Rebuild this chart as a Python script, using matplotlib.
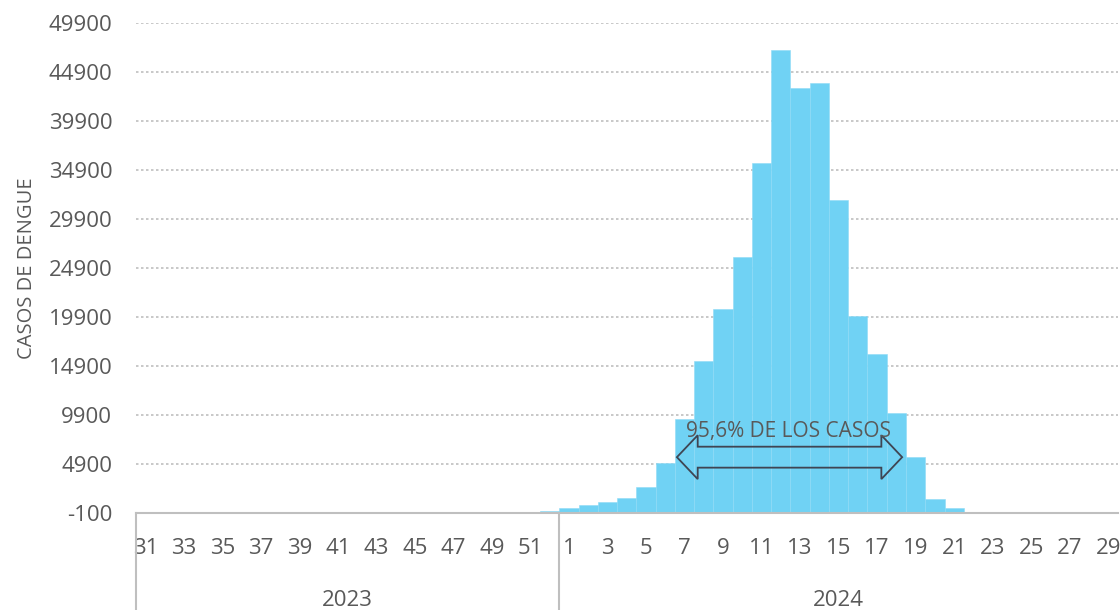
import matplotlib.pyplot as plt
from matplotlib.patches import Polygon
from matplotlib.transforms import blended_transform_factory

plt.rcParams['font.family'] = ['Open Sans', 'DejaVu Sans']

# semanas epidemiologicas
weeks_2023 = list(range(31, 53))
weeks_2024 = list(range(1, 30))
cases_2023 = [5, 5, 5, 5, 5, 5, 5, 5, 5, 5, 5, 5, 5, 5, 5, 5,
              5, 5, 10, 10, 20, 150]
cases_2024 = [380, 690, 1000, 1430, 2550, 5000, 9500, 15450, 20700, 26050,
              35600, 47200, 43300, 43750, 31800, 20000, 16150, 10150, 5650,
              1350, 450, 30, 20, 15, 10, 10, 10, 5, 5]
years = ['2023', '2024']
y_ticks = list(range(-100, 50000, 5000))
pct_label = '95,6% DE LOS CASOS'

grey = '#595959'
line_c = '#bfbfbf'

values = cases_2023 + cases_2024
labels = [str(w) for w in weeks_2023 + weeks_2024]
x = list(range(len(values)))

fig = plt.figure(figsize=(11.2, 6.1), dpi=100)
ax = fig.add_axes([0.1214, 0.159, 0.8766, 0.803])

ax.bar(x, values, width=1.0, color='#70d2f4', edgecolor='#8fdbf6', linewidth=0.4, zorder=2)

ax.set_xlim(-0.5, len(values) - 0.5)
ax.set_ylim(-100, 49900)
ax.set_yticks(y_ticks)
ax.set_yticklabels([str(v) for v in y_ticks])
ax.yaxis.grid(True, linestyle=(0, (1.5, 1.5)), color=line_c, linewidth=1.2, zorder=0)
ax.set_axisbelow(True)

ax.set_xticks(x[::2])
ax.set_xticklabels(labels[::2])
ax.tick_params(axis='x', length=0, pad=18, labelsize=16, labelcolor=grey)
ax.tick_params(axis='y', length=0, pad=17, labelsize=16, labelcolor=grey)

for s in ['top', 'right', 'left']:
    ax.spines[s].set_visible(False)
ax.spines['bottom'].set_color(line_c)
ax.spines['bottom'].set_linewidth(1.5)

ax.set_ylabel('CASOS DE DENGUE', fontsize=14.5, color=grey, labelpad=8)

# segundo nivel del eje: años
tr = blended_transform_factory(ax.transData, ax.transAxes)
bounds = [-0.5, len(weeks_2023) - 0.5, len(values) - 0.5]
for b in bounds[:2]:
    ax.plot([b, b], [0, -0.2], transform=tr, color=line_c, linewidth=1.5, clip_on=False)
for i, yr in enumerate(years):
    ax.text((bounds[i] + bounds[i + 1]) / 2, -0.178, yr, transform=tr,
            ha='center', va='center', fontsize=16, color=grey)

# flecha doble
xl, xr = 27.6, 39.3
hl = 1.08
yc, sh, hh = 5600, 1070, 2240
arrow = Polygon([(xl, yc), (xl + hl, yc + hh), (xl + hl, yc + sh), (xr - hl, yc + sh),
                 (xr - hl, yc + hh), (xr, yc), (xr - hl, yc - hh), (xr - hl, yc - sh),
                 (xl + hl, yc - sh), (xl + hl, yc - hh)], closed=True,
                fill=False, edgecolor='#3f4553', linewidth=1.3, zorder=3)
ax.add_patch(arrow)
ax.text(33.4, 8200, pct_label, ha='center', va='center', fontsize=15, color=grey, zorder=4)

fig.savefig('out.png', dpi=100)
